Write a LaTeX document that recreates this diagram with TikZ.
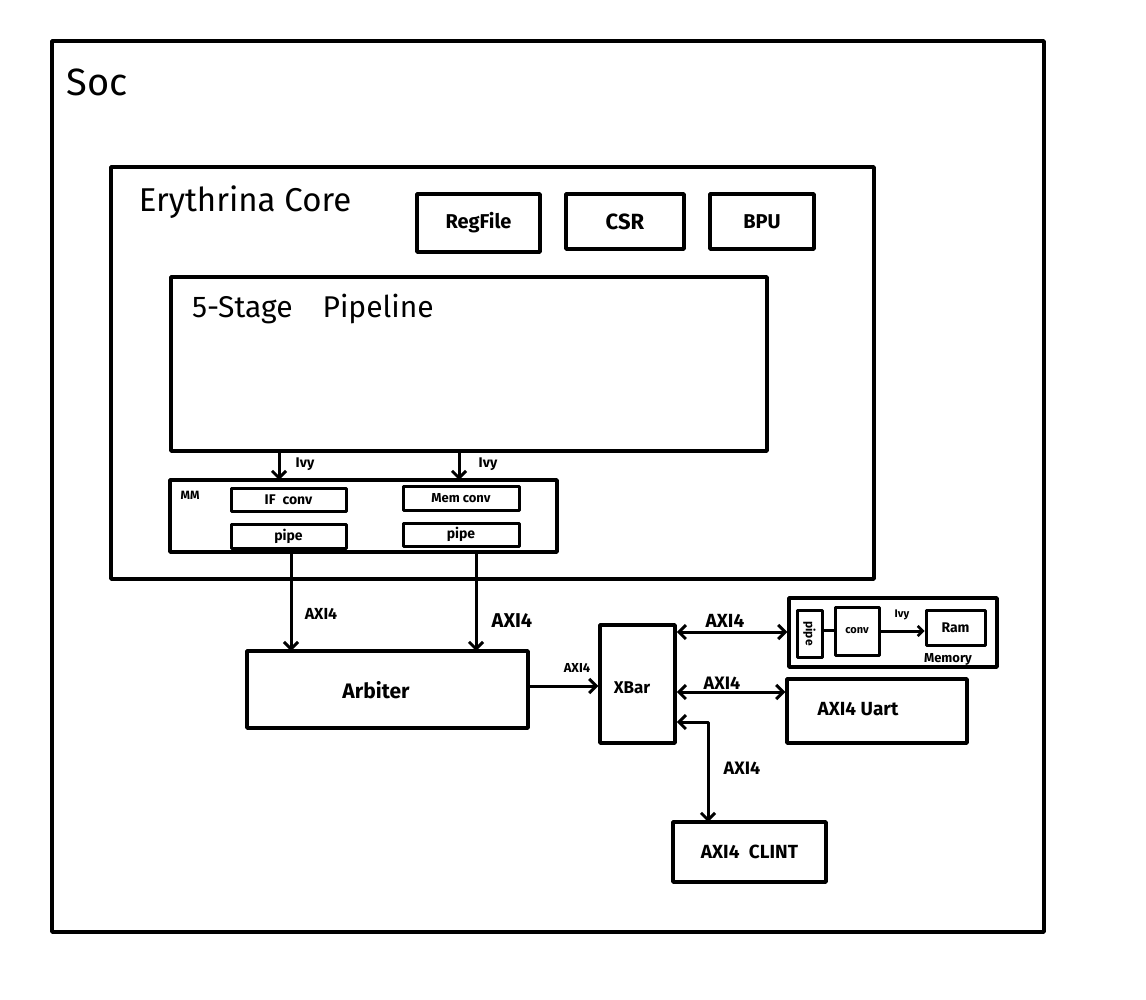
\documentclass[tikz,border=0pt]{standalone}
\usepackage{fontspec}
\setmainfont{Fira Sans}
\usetikzlibrary{arrows.meta}
\begin{document}
\begin{tikzpicture}[x=1pt,y=-1pt,
  box/.style={draw,line width=3.5pt,fill=none},
  thinbox/.style={draw,line width=3pt},
  lbl/.style={inner sep=0pt,font=\fontsize{16}{16}\selectfont\bfseries},
  conn/.style={line width=3pt,-{Straight Barb[length=7pt,width=14pt,line width=3pt]}},
  bconn/.style={line width=3pt,{Straight Barb[length=7pt,width=14pt,line width=3pt]}-{Straight Barb[length=7pt,width=14pt,line width=3pt]}},
  line cap=round,line join=round]
\useasboundingbox (0,0) rectangle (1146,1000);
\fill[white] (0,0) rectangle (1146,1000);
% outer boxes
\draw[box] (52,41) rectangle (1044,932);
\node[inner sep=0pt,font=\fontsize{38}{38}\selectfont] (soc) at (97,82) {Soc};
\draw[box] (111,167) rectangle (874,579);
\node[inner sep=0pt,font=\fontsize{33}{33}\selectfont] (core) at (245,202) {Erythrina Core};
% top blocks
\node[box,minimum width=123pt,minimum height=58pt,font=\fontsize{20}{20}\selectfont\bfseries] (reg) at (478.5,223) {RegFile};
\node[box,minimum width=118pt,minimum height=55pt,font=\fontsize{22}{22}\selectfont\bfseries] (csr) at (625,221.5) {CSR};
\node[box,minimum width=104pt,minimum height=55pt,font=\fontsize{20}{20}\selectfont\bfseries] (bpu) at (762,221.5) {BPU};
% pipeline
\node[box,minimum width=596pt,minimum height=174pt] (pipe) at (469,364) {};
\node[inner sep=0pt,font=\fontsize{30}{30}\selectfont,anchor=west] (pipel) at (192,309) {5-Stage\quad Pipeline};
% MMU
\node[box,minimum width=387pt,minimum height=72pt] (mmu) at (363.5,516) {};
\node[lbl,font=\fontsize{12}{12}\selectfont\bfseries] (mm) at (190,495) {MM};
\node[thinbox,minimum width=115pt,minimum height=23pt,inner sep=0pt,font=\fontsize{14}{14}\selectfont\bfseries] (ifc) at (288.5,499.5) {IF\enspace conv};
\node[thinbox,minimum width=115pt,minimum height=24pt,inner sep=0pt,font=\fontsize{14}{14}\selectfont\bfseries] (ifp) at (288.5,536) {pipe};
\node[thinbox,minimum width=116pt,minimum height=24pt,inner sep=0pt,font=\fontsize{13}{13}\selectfont\bfseries] (memc) at (461,498) {Mem conv};
\node[thinbox,minimum width=116pt,minimum height=23pt,inner sep=0pt,font=\fontsize{14}{14}\selectfont\bfseries] (memp) at (461,534.5) {pipe};
\coordinate (p1) at (279,451);
\coordinate (p2) at (459,451);
\draw[conn] (p1) -- (279,480);
\draw[conn] (p2) -- (459,480);
\node[lbl,font=\fontsize{14}{14}\selectfont\bfseries] (ivy1) at (305,464) {Ivy};
\node[lbl,font=\fontsize{14}{14}\selectfont\bfseries] (ivy2) at (488,464) {Ivy};
% Arbiter
\node[box,minimum width=281pt,minimum height=77pt] (arb) at (387.5,689.5) {};
\node[lbl,font=\fontsize{21}{21}\selectfont\bfseries] (arbt) at (376,690) {Arbiter};
\draw[conn] (291,552) -- (291,651);
\draw[conn] (476,552) -- (476,651);
\node[lbl,font=\fontsize{16}{16}\selectfont\bfseries] (a1) at (321,614) {AXI4};
\node[lbl,font=\fontsize{20}{20}\selectfont\bfseries] (a2) at (512,621) {AXI4};
% XBar
\node[box,minimum width=75pt,minimum height=118pt] (xbar) at (637.5,684) {};
\node[lbl,font=\fontsize{17}{17}\selectfont\bfseries] (xbart) at (632,688) {XBar};
\draw[conn] (arb.east |- 0,686) -- (xbar.west |- 0,686);
\node[lbl,font=\fontsize{13}{13}\selectfont\bfseries] (a3) at (577,668) {AXI4};
% Memory
\node[box,minimum width=208pt,minimum height=69pt] (mem) at (893,632.5) {};
\node[thinbox,minimum width=25pt,minimum height=47pt,inner sep=0pt] (mpipe) at (809.5,633.5) {};
\node[rotate=-90,inner sep=0pt,font=\fontsize{12}{12}\selectfont\bfseries] (mpipet) at (mpipe.center) {pipe};
\node[thinbox,minimum width=44pt,minimum height=48pt,inner sep=0pt,font=\fontsize{11}{11}\selectfont\bfseries] (mconv) at (857,631) {conv};
\node[thinbox,minimum width=59pt,minimum height=35pt,inner sep=0pt,font=\fontsize{14}{14}\selectfont\bfseries] (ram) at (955.5,627.5) {Ram};
\draw[line width=3pt] (mpipe.east |- 0,630) -- (mconv.west |- 0,630);
\draw[line width=3pt,-{Straight Barb[length=5pt,width=10pt,line width=2.6pt]}] (mconv.east |- 0,631) -- (ram.west |- 0,631);
\node[lbl,font=\fontsize{11}{11}\selectfont\bfseries] (ivy3) at (902,615) {Ivy};
\node[lbl,font=\fontsize{13}{13}\selectfont\bfseries] (memt) at (948,659) {Memory};
\draw[bconn] (xbar.east |- 0,632) -- (mem.west |- 0,632);
\node[lbl,font=\fontsize{19}{19}\selectfont\bfseries] (a4) at (725,621) {AXI4};
% Uart
\node[box,minimum width=180pt,minimum height=64pt] (uart) at (877,711) {};
\node[lbl,font=\fontsize{19}{19}\selectfont\bfseries] (uartt) at (858,709) {AXI4 Uart};
\draw[bconn] (xbar.east |- 0,692) -- (uart.west |- 0,692);
\node[lbl,font=\fontsize{18}{18}\selectfont\bfseries] (a5) at (722,683) {AXI4};
% CLINT
\node[box,minimum width=153pt,minimum height=60pt,font=\fontsize{19}{19}\selectfont\bfseries] (clint) at (749.5,852) {AXI4\enspace CLINT};
\draw[bconn] (xbar.east |- 0,722) -- (708,722) -- (708,822);
\node[lbl,font=\fontsize{18}{18}\selectfont\bfseries] (a6) at (742,768) {AXI4};
\end{tikzpicture}
\end{document}
